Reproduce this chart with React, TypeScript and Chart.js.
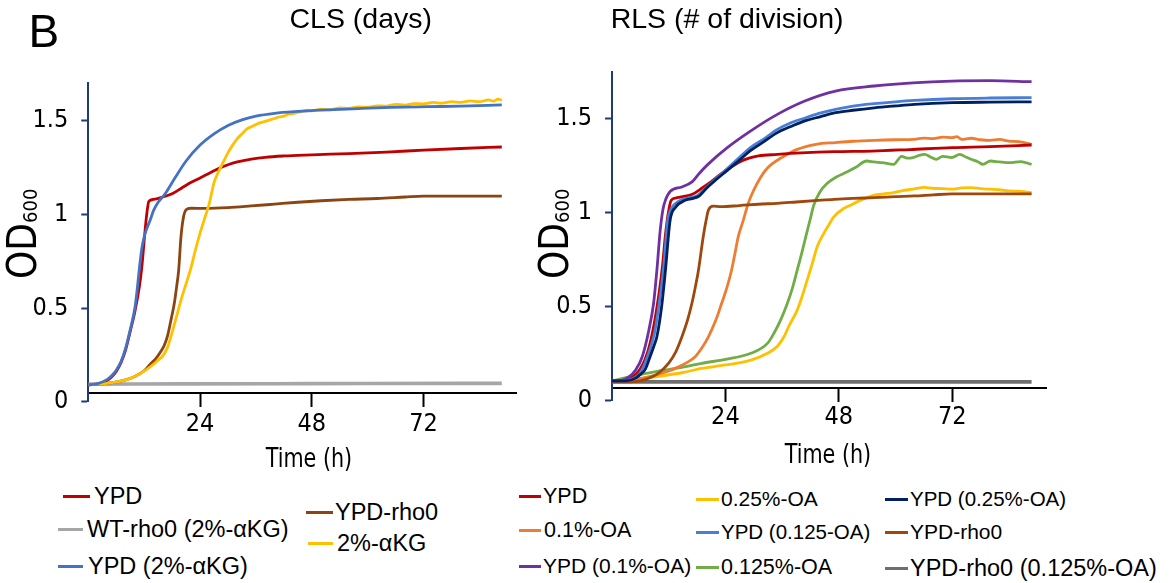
import React, { useEffect, useRef } from "react";
import { Chart, registerables } from "chart.js";

Chart.register(...registerables);

const NARROW = "'Liberation Sans Narrow', 'Arial Narrow', 'DejaVu Sans Condensed', 'Liberation Sans', Arial, sans-serif";
const SANS = "'Liberation Sans', Arial, Helvetica, sans-serif";

// ---------- axis ticks ----------
const xTickValues = [24, 48, 72];
const xTickLabels = ["24", "48", "72"];
const yTickValues = [0, 0.5, 1, 1.5];
const yTickLabels = ["0", "0.5", "1", "1.5"];

// ---------- titles ----------
const panelLetter = "B";
const clsTitle = "CLS (days)";
const rlsTitle = "RLS (# of division)";
const xTitle = "Time (h)";

// ---------- CLS panel series: [time h, OD600] ----------
const clsYPD = [[0,0.09],[2,0.094],[4,0.113],[5,0.132],[6,0.162],[7,0.207],[8,0.275],[9,0.375],[10,0.48],[11,0.62],[11.5,0.72],[12,0.86],[12.5,0.99],[13,1.07],[14,1.08],[16,1.093],[18,1.11],[20,1.14],[22,1.17],[24,1.195],[26,1.22],[28,1.245],[30,1.265],[32,1.28],[35,1.295],[38,1.305],[42,1.312],[48,1.318],[56,1.325],[64,1.333],[72,1.343],[80,1.352],[88.8,1.36]];
const clsWTrho0AKG = [[0,0.094],[20,0.095],[40,0.096],[60,0.097],[88.8,0.098]];
const clsYPDAKG = [[0,0.09],[2,0.096],[4,0.118],[5,0.138],[6,0.168],[7,0.213],[8,0.285],[9,0.385],[10,0.5],[10.5,0.6],[11,0.72],[11.5,0.82],[12,0.88],[12.5,0.92],[13.3,0.97],[14,1.02],[15,1.065],[16.5,1.11],[18.5,1.19],[21,1.285],[24,1.37],[27,1.43],[30,1.475],[33,1.505],[36,1.525],[40,1.54],[45,1.55],[50,1.557],[58,1.565],[65,1.571],[73,1.575],[80,1.578],[88.8,1.585]];
const clsYPDrho0 = [[0,0.09],[4,0.098],[8,0.117],[10,0.135],[12,0.165],[13.3,0.2],[14.5,0.23],[15.5,0.265],[16.3,0.3],[17,0.35],[17.7,0.43],[18.5,0.53],[19,0.62],[19.4,0.7],[19.9,0.88],[20.4,0.98],[21,1.025],[22,1.033],[25,1.032],[30,1.036],[35,1.045],[40,1.055],[45,1.065],[50,1.073],[56,1.08],[62,1.085],[68,1.093],[72,1.098],[80,1.098],[88.8,1.098]];
const clsAKG = [[0,0.09],[4,0.098],[8,0.117],[10,0.135],[12,0.163],[14,0.2],[15,0.222],[16,0.245],[17,0.29],[18,0.37],[19,0.46],[20,0.55],[21,0.63],[22,0.71],[23,0.81],[24,0.9],[25,0.98],[26,1.06],[27,1.17],[28,1.23],[29,1.28],[30,1.33],[31,1.37],[32,1.405],[33,1.43],[34,1.455],[35,1.468],[36,1.48],[37,1.49],[38,1.497],[39,1.505],[40,1.512],[41,1.52],[42,1.525],[43,1.535],[44,1.538],[45,1.545],[46,1.55],[47,1.556],[48,1.553],[50,1.562],[52,1.558],[54,1.568],[56,1.566],[58,1.574],[60,1.572],[62,1.58],[64,1.578],[66,1.588],[68,1.584],[70,1.592],[72,1.59],[74,1.598],[76,1.594],[78,1.602],[80,1.598],[82,1.606],[84,1.602],[86,1.612],[87,1.605],[88,1.616],[88.8,1.61]];

// ---------- RLS panel series ----------
const rlsYPD = [[0,0.105],[3,0.11],[5,0.14],[6,0.17],[7,0.22],[8,0.3],[9,0.42],[10,0.58],[10.7,0.72],[11.3,0.88],[11.8,0.98],[12.5,1.065],[13.5,1.078],[15,1.085],[17,1.098],[19,1.13],[21,1.165],[23,1.205],[25,1.24],[27,1.27],[29,1.29],[31,1.302],[35,1.31],[40,1.318],[47,1.325],[55,1.328],[63,1.336],[72,1.346],[80,1.351],[88.8,1.36]];
const rlsOA01 = [[0,0.105],[3,0.108],[6,0.118],[9,0.135],[12,0.158],[14.1,0.18],[16,0.205],[17.6,0.234],[19,0.28],[20.4,0.34],[22,0.43],[23.2,0.517],[24.3,0.6],[25.3,0.694],[26,0.78],[26.7,0.871],[27.8,0.96],[28.8,1.048],[30,1.12],[31.5,1.19],[33,1.24],[35.9,1.293],[39.2,1.337],[43.2,1.364],[47.3,1.373],[51,1.38],[55.5,1.385],[60,1.388],[64,1.39],[66,1.397],[68,1.394],[70,1.402],[72,1.399],[73,1.405],[74,1.39],[76,1.396],[78,1.388],[80,1.385],[82,1.39],[84,1.381],[86,1.378],[87.5,1.372],[88.8,1.364]];
const rlsYPDOA01 = [[0,0.105],[2,0.108],[3.6,0.127],[5,0.163],[6.4,0.234],[7.8,0.375],[8.8,0.517],[9.5,0.694],[10.2,0.906],[10.8,1.02],[11.3,1.066],[12.3,1.113],[14.8,1.137],[17,1.165],[18.5,1.21],[20.3,1.257],[24.4,1.346],[29.3,1.434],[35,1.523],[40.8,1.594],[47.3,1.647],[55.5,1.674],[63.7,1.691],[71.9,1.7],[80,1.702],[88.8,1.697]];
const rlsOA025 = [[0,0.105],[5,0.115],[10,0.13],[15,0.15],[19,0.172],[24,0.19],[29.4,0.216],[32.9,0.252],[35,0.29],[36.4,0.34],[37.5,0.4],[39.2,0.482],[40.3,0.56],[41.3,0.641],[42.4,0.73],[43.4,0.818],[44.8,0.889],[46,0.94],[46.9,0.977],[49,1.022],[50.5,1.04],[52.3,1.063],[54,1.08],[55.5,1.093],[57.5,1.1],[59.6,1.107],[61.5,1.118],[63.7,1.125],[66,1.135],[67.8,1.13],[70,1.128],[72,1.125],[74,1.132],[76,1.133],[78,1.128],[80,1.125],[82,1.122],[84,1.116],[86,1.114],[88.8,1.107]];
const rlsYPDOA0125 = [[0,0.105],[3,0.106],[5,0.125],[6,0.15],[7,0.2],[8,0.27],[9,0.36],[10,0.52],[10.9,0.7],[11.8,0.96],[12.5,1.02],[13.5,1.05],[14.8,1.07],[16,1.078],[18,1.09],[20,1.135],[22,1.18],[24.4,1.235],[27,1.295],[29.3,1.346],[32,1.39],[35,1.443],[38,1.48],[41,1.505],[44,1.53],[47.3,1.55],[51,1.567],[55.5,1.58],[60,1.59],[64,1.597],[72,1.606],[80,1.61],[88.8,1.612]];
const rlsOA0125 = [[0,0.105],[5,0.135],[10,0.158],[15,0.178],[19,0.199],[24,0.22],[29.4,0.252],[32.9,0.305],[34.3,0.36],[35.7,0.43],[37.1,0.517],[38.2,0.6],[39.2,0.694],[40.1,0.78],[41,0.871],[42,0.97],[42.7,1.04],[44,1.11],[45.5,1.155],[47.5,1.19],[49.7,1.216],[51.5,1.24],[53.9,1.275],[55.5,1.27],[57.2,1.266],[59.6,1.257],[61.3,1.3],[62.5,1.29],[63.7,1.293],[65,1.305],[66.2,1.31],[67.5,1.295],[68.6,1.284],[70,1.3],[71.9,1.293],[73.6,1.31],[75,1.295],[76,1.284],[77.5,1.27],[78.5,1.257],[80.1,1.275],[82,1.27],[84.2,1.266],[86.5,1.272],[88.8,1.257]];
const rlsYPDOA025 = [[0,0.105],[3,0.105],[5,0.12],[6,0.14],[7,0.165],[8,0.23],[9,0.3],[9.5,0.34],[10.5,0.5],[11.3,0.69],[12.3,0.96],[13.5,1.03],[15.5,1.066],[17,1.075],[18.5,1.09],[20,1.13],[22,1.175],[24.4,1.225],[27,1.28],[29.3,1.33],[32,1.375],[35,1.426],[38,1.46],[41,1.49],[44,1.51],[47.3,1.532],[51,1.545],[55.5,1.558],[60,1.568],[64,1.576],[72,1.585],[80,1.588],[88.8,1.59]];
const rlsYPDrho0 = [[0,0.1],[3,0.1],[6,0.105],[8.5,0.127],[10,0.15],[12,0.2],[13.5,0.26],[14.8,0.34],[16,0.43],[16.9,0.517],[17.6,0.6],[18.3,0.694],[19.3,0.871],[20,0.97],[20.4,1.013],[21.4,1.035],[23,1.032],[27,1.038],[31,1.045],[35,1.05],[39,1.057],[43,1.064],[47,1.071],[51,1.076],[55.5,1.08],[60,1.085],[64,1.089],[68,1.095],[72,1.1],[80,1.1],[88.8,1.1]];
const rlsYPDrho0OA0125 = [[0,0.1],[30,0.1],[60,0.1],[88.8,0.1]];

// ---------- series labels / colours ----------
const clsLabels = ["YPD", "WT-rho0 (2%-αKG)", "YPD (2%-αKG)", "YPD-rho0", "2%-αKG"];
const clsColors = ["#C00000", "#A6A6A6", "#4472C4", "#8B4513", "#FFC000"];
const clsData = [clsYPD, clsWTrho0AKG, clsYPDAKG, clsYPDrho0, clsAKG];
const clsOrder = [3, 5, 1, 4, 2];

const rlsLabels = ["YPD", "0.1%-OA", "YPD (0.1%-OA)", "0.25%-OA", "YPD (0.125-OA)", "0.125%-OA", "YPD (0.25%-OA)", "YPD-rho0", "YPD-rho0 (0.125%-OA)"];
const rlsColors = ["#C00000", "#ED7D31", "#7030A0", "#FFC000", "#4A7DD6", "#70AD47", "#002060", "#9E480E", "#6E6E6E"];
const rlsData = [rlsYPD, rlsOA01, rlsYPDOA01, rlsOA025, rlsYPDOA0125, rlsOA0125, rlsYPDOA025, rlsYPDrho0, rlsYPDrho0OA0125];
const rlsOrder = [4, 6, 3, 8, 2, 7, 1, 5, 9];

const AXIS_BLUE = "#1F3A7A";

function buildChart(canvas, labels, colors, datas, orders, yMax, xAt, pad, xLabelPad) {
  return new Chart(canvas, {
    type: "line",
    data: {
      datasets: datas.map((d, i) => ({
        label: labels[i],
        data: d.map((p) => ({ x: p[0], y: p[1] })),
        borderColor: colors[i],
        backgroundColor: colors[i],
        borderWidth: colors[i] === "#A6A6A6" || colors[i] === "#6E6E6E" ? 3.6 : 2.8,
        pointRadius: 0,
        pointHoverRadius: 0,
        fill: false,
        cubicInterpolationMode: "monotone",
        order: orders[i],
      })),
    },
    options: {
      animation: false,
      responsive: false,
      devicePixelRatio: 1,
      events: [],
      layout: { padding: { left: 0, top: pad.top, right: pad.right, bottom: pad.bottom } },
      plugins: { legend: { display: false }, tooltip: { enabled: false }, title: { display: false } },
      scales: {
        x: {
          type: "linear",
          min: 0,
          max: 92,
          position: { y: xAt },
          afterBuildTicks: (s) => { s.ticks = xTickValues.map((v) => ({ value: v })); },
          ticks: {
            callback: (v, i) => xTickLabels[i],
            font: { family: NARROW, size: 25 },
            color: "#000",
            padding: xLabelPad,
            maxRotation: 0,
            autoSkip: false,
          },
          grid: { drawOnChartArea: false, drawTicks: true, tickLength: 13, tickWidth: 2, color: "#000" },
          border: { display: true, color: "#000", width: 2 },
        },
        y: {
          type: "linear",
          min: 0,
          max: yMax,
          position: "left",
          afterBuildTicks: (s) => { s.ticks = yTickValues.map((v) => ({ value: v })); },
          afterFit: (s) => { s.width = pad.left; },
          ticks: {
            callback: (v, i) => yTickLabels[i],
            font: { family: NARROW, size: 25 },
            color: "#000",
            padding: 13,
            autoSkip: false,
          },
          grid: { drawOnChartArea: false, drawTicks: true, tickLength: 7, tickWidth: 2, color: AXIS_BLUE },
          border: { display: true, color: AXIS_BLUE, width: 2 },
        },
      },
    },
  });
}

const legendLeft = [
  { i: 0, x1: 63, x2: 90, y: 496, tx: 94, fs: 23.5 },
  { i: 1, x1: 58, x2: 83, y: 529, tx: 87, fs: 23.5 },
  { i: 2, x1: 58, x2: 83, y: 566, tx: 88, fs: 23.5 },
  { i: 3, x1: 306, x2: 333, y: 512, tx: 335, fs: 23.5 },
  { i: 4, x1: 308, x2: 333, y: 543, tx: 337, fs: 23.5 },
];
const legendRight = [
  { i: 0, x1: 519, x2: 541, y: 496, tx: 543, fs: 21.5 },
  { i: 1, x1: 519, x2: 541, y: 530, tx: 544, fs: 21.5 },
  { i: 2, x1: 519, x2: 541, y: 566, tx: 543, fs: 21 },
  { i: 3, x1: 696, x2: 719, y: 499, tx: 721, fs: 21 },
  { i: 4, x1: 696, x2: 719, y: 532, tx: 721, fs: 20.5 },
  { i: 5, x1: 696, x2: 719, y: 567, tx: 721, fs: 21.5 },
  { i: 6, x1: 885, x2: 908, y: 499, tx: 910, fs: 20.5 },
  { i: 7, x1: 885, x2: 908, y: 532, tx: 910, fs: 21 },
  { i: 8, x1: 885, x2: 908, y: 568, tx: 910, fs: 23.5 },
];

function LegendItem({ x1, x2, y, tx, fs, color, label }) {
  return (
    <>
      <div style={{ position: "absolute", left: x1, top: y - 1.5, width: x2 - x1, height: 3, background: color }} />
      <div style={{ position: "absolute", left: tx, top: y - 13, fontFamily: SANS, fontSize: fs, lineHeight: "26px", whiteSpace: "nowrap", color: "#000" }}>{label}</div>
    </>
  );
}

function ODLabel({ left }) {
  return (
    <div style={{ position: "absolute", left, top: 278.5, transform: "rotate(-90deg)", transformOrigin: "left top", whiteSpace: "nowrap", fontFamily: NARROW, fontSize: 40, lineHeight: "40px", color: "#000", zIndex: 2 }}>
      OD<span style={{ fontSize: 20, lineHeight: "20px", verticalAlign: "-1px" }}>600</span>
    </div>
  );
}

function TimeLabel({ center, top }) {
  return (
    <div style={{ position: "absolute", left: center - 100, width: 200, textAlign: "center", top, fontFamily: NARROW, fontSize: 23, lineHeight: "28px", whiteSpace: "nowrap", color: "#000", transform: "scaleY(1.15)", transformOrigin: "center 22px" }}>{xTitle}</div>
  );
}

export default function App() {
  const leftRef = useRef(null);
  const rightRef = useRef(null);

  useEffect(() => {
    const c1 = buildChart(leftRef.current, clsLabels, clsColors, clsData, clsOrder, 1.70, 0.045,
      { left: 88.3, top: 83.3, right: 560 - 516.7, bottom: 470 - 401.7 }, 3);
    const c2 = buildChart(rightRef.current, rlsLabels, rlsColors, rlsData, rlsOrder, 1.75, 0.066,
      { left: 88, top: 71.7, right: 560 - (1046.2 - 523.5), bottom: 470 - 400.7 }, 1);
    return () => { c1.destroy(); c2.destroy(); };
  }, []);

  return (
    <div style={{ position: "absolute", left: 0, top: 0, width: 1174, height: 583, background: "#fff", overflow: "hidden" }}>
      <canvas ref={leftRef} width={560} height={470} style={{ position: "absolute", left: 0, top: 0, width: 560, height: 470 }} />
      <canvas ref={rightRef} width={560} height={470} style={{ position: "absolute", left: 523.5, top: 0, width: 560, height: 470 }} />

      <div style={{ position: "absolute", left: 28.6, top: 4.8, font: `46px ${SANS}`, lineHeight: "52px", color: "#000" }}>{panelLetter}</div>
      <div style={{ position: "absolute", left: 289.5, top: 2.4, fontFamily: SANS, fontSize: 28.5, lineHeight: "32px", whiteSpace: "nowrap", color: "#000" }}>{clsTitle}</div>
      <div style={{ position: "absolute", left: 610.7, top: 2.4, fontFamily: SANS, fontSize: 28.5, lineHeight: "32px", whiteSpace: "nowrap", color: "#000" }}>{rlsTitle}</div>

      <TimeLabel center={309} top={444.8} />
      <TimeLabel center={828} top={441.4} />

      <ODLabel left={1.8} />
      <ODLabel left={533.8} />

      {legendLeft.map((l) => (
        <LegendItem key={"l" + l.i} x1={l.x1} x2={l.x2} y={l.y} tx={l.tx} fs={l.fs} color={clsColors[l.i]} label={clsLabels[l.i]} />
      ))}
      {legendRight.map((l) => (
        <LegendItem key={"r" + l.i} x1={l.x1} x2={l.x2} y={l.y} tx={l.tx} fs={l.fs} color={rlsColors[l.i]} label={rlsLabels[l.i]} />
      ))}
    </div>
  );
}
